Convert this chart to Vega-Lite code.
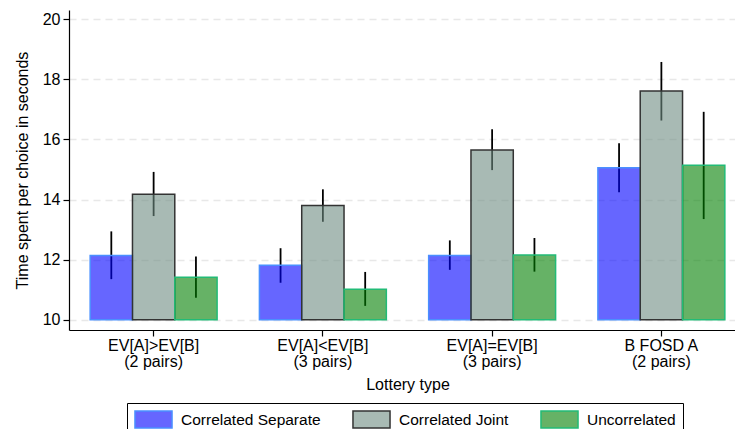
{
  "$schema": "https://vega.github.io/schema/vega-lite/v6.json",
  "width": 666,
  "height": 320,
  "autosize": "none",
  "padding": {"left": 69, "top": 10, "right": 0, "bottom": 99},
  "config": {
    "font": "Liberation Sans",
    "view": {"stroke": null},
    "axis": {"labelColor": "#000", "titleColor": "#000", "titleFontWeight": "normal", "domainColor": "#000", "tickColor": "#000", "domainWidth": 1.2, "tickWidth": 1.2}
  },
  "data": {
    "values": [
      {"cat": "EV[A]>EV[B]|(2 pairs)", "series": "Correlated Separate", "mean": 12.14, "lo": 11.35, "hi": 12.94},
      {"cat": "EV[A]>EV[B]|(2 pairs)", "series": "Correlated Joint", "mean": 14.18, "lo": 13.45, "hi": 14.92},
      {"cat": "EV[A]>EV[B]|(2 pairs)", "series": "Uncorrelated", "mean": 11.41, "lo": 10.73, "hi": 12.10},
      {"cat": "EV[A]<EV[B]|(3 pairs)", "series": "Correlated Separate", "mean": 11.81, "lo": 11.23, "hi": 12.38},
      {"cat": "EV[A]<EV[B]|(3 pairs)", "series": "Correlated Joint", "mean": 13.80, "lo": 13.26, "hi": 14.34},
      {"cat": "EV[A]<EV[B]|(3 pairs)", "series": "Uncorrelated", "mean": 11.01, "lo": 10.46, "hi": 11.59},
      {"cat": "EV[A]=EV[B]|(3 pairs)", "series": "Correlated Separate", "mean": 12.14, "lo": 11.66, "hi": 12.64},
      {"cat": "EV[A]=EV[B]|(3 pairs)", "series": "Correlated Joint", "mean": 15.65, "lo": 14.98, "hi": 16.34},
      {"cat": "EV[A]=EV[B]|(3 pairs)", "series": "Uncorrelated", "mean": 12.15, "lo": 11.60, "hi": 12.72},
      {"cat": "B FOSD A|(2 pairs)", "series": "Correlated Separate", "mean": 15.06, "lo": 14.24, "hi": 15.87},
      {"cat": "B FOSD A|(2 pairs)", "series": "Correlated Joint", "mean": 17.61, "lo": 16.63, "hi": 18.58},
      {"cat": "B FOSD A|(2 pairs)", "series": "Uncorrelated", "mean": 15.14, "lo": 13.35, "hi": 16.92}
    ]
  },
  "encoding": {
    "x": {
      "field": "cat", "type": "nominal", "sort": null,
      "scale": {"range": [0, 677], "paddingInner": 0.25, "paddingOuter": 0.125},
      "axis": {"title": "Lottery type", "labelExpr": "split(datum.label, '|')", "labelAngle": 0, "tickSize": 6, "labelPadding": 1, "labelFontSize": 16, "labelLineHeight": 16, "titleFontSize": 16, "titlePadding": 7, "grid": false, "labelLimit": 200}
    },
    "xOffset": {"field": "series", "type": "nominal", "sort": ["Correlated Separate", "Correlated Joint", "Uncorrelated"], "scale": {"paddingInner": 0, "paddingOuter": 0}}
  },
  "layer": [
    {
      "mark": {"type": "rule", "color": "#000", "strokeWidth": 1.8},
      "encoding": {
        "y": {"field": "lo", "type": "quantitative", "title": "Time spent per choice in seconds",
          "scale": {"domain": [9.657, 20.31], "nice": false, "zero": false},
          "axis": {"values": [10, 12, 14, 16, 18, 20], "grid": true, "gridDash": [7, 5], "gridColor": "#e8e8e8", "gridWidth": 1.5, "tickSize": 6, "labelFontSize": 16, "titleFontSize": 16, "labelPadding": 3, "titlePadding": 12}},
        "y2": {"field": "hi"}
      }
    },
    {
      "mark": {"type": "bar", "strokeWidth": 1.5},
      "encoding": {
        "y": {"field": "mean", "type": "quantitative", "title": "Time spent per choice in seconds"},
        "y2": {"datum": 10},
        "fill": {"field": "series", "type": "nominal", "sort": ["Correlated Separate", "Correlated Joint", "Uncorrelated"],
          "scale": {"domain": ["Correlated Separate", "Correlated Joint", "Uncorrelated"], "range": ["rgba(0,0,255,0.6)", "rgba(110,140,130,0.6)", "rgba(0,127,0,0.6)"]},
          "legend": {"orient": "none", "legendX": 58, "legendY": 393, "direction": "horizontal", "title": null, "symbolType": "M-2.18,-1H2.18V1H-2.18Z", "symbolSize": 289, "symbolOffset": 10, "labelFontSize": 15.5, "labelOffset": 18, "columnPadding": 28, "padding": 7, "strokeColor": "#000", "symbolStrokeWidth": 1.5, "labelLimit": 300, "labelColor": "#000"}},
        "stroke": {"field": "series", "type": "nominal", "sort": ["Correlated Separate", "Correlated Joint", "Uncorrelated"],
          "scale": {"domain": ["Correlated Separate", "Correlated Joint", "Uncorrelated"], "range": ["#4a90ff", "#333333", "#22bb77"]}}
      }
    }
  ]
}
